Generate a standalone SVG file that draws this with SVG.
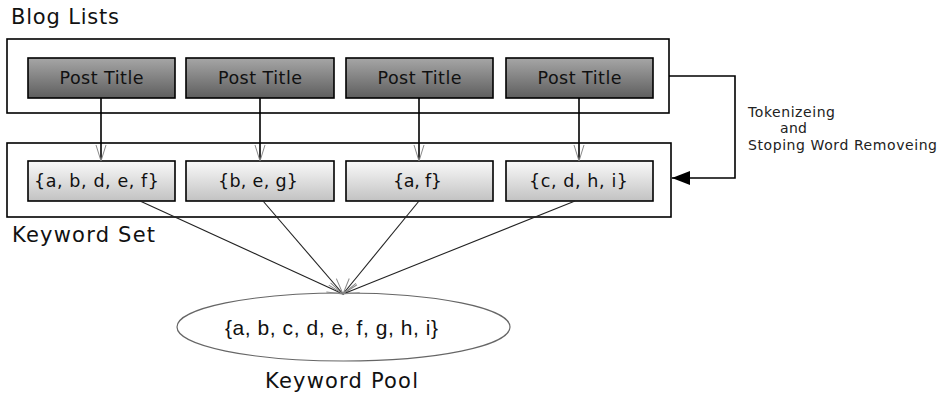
<svg xmlns="http://www.w3.org/2000/svg" width="942" height="395" viewBox="0 0 942 395">
<style>
.frame{fill:none;stroke:#000;stroke-width:1.6}
.post{fill:url(#gDark);stroke:#000;stroke-width:1.6}
.kw{fill:url(#gLight);stroke:#000;stroke-width:1.6}
.t{font-family:"DejaVu Sans",Verdana,sans-serif;fill:#111}
.lbl{font-size:21px}
.box{font-size:17.5px;text-anchor:middle}
.note{font-size:14px;fill:#222}
.edge{stroke:#000;stroke-width:1.6;fill:none}
.edge2{stroke:#222;stroke-width:1.1;fill:none}
</style>
<defs>
<linearGradient id="gDark" x1="0" y1="0" x2="0" y2="1">
<stop offset="0" stop-color="#a6a6a6"/>
<stop offset="1" stop-color="#5e5e5e"/>
</linearGradient>
<linearGradient id="gLight" x1="0" y1="0" x2="0" y2="1">
<stop offset="0" stop-color="#fafafa"/>
<stop offset="1" stop-color="#c2c2c2"/>
</linearGradient>
<marker id="open" markerUnits="userSpaceOnUse" markerWidth="20" markerHeight="14" viewBox="-18 -7 20 14" refX="0" refY="0" orient="auto">
<path d="M-16,-5 L0,0 L-16,5" fill="none" stroke="#888" stroke-width="1"/>
</marker>
<marker id="solid" markerUnits="userSpaceOnUse" markerWidth="20" markerHeight="16" viewBox="-19 -8 20 16" refX="0" refY="0" orient="auto">
<path d="M-18,-7 L0,0 L-18,7 Z" fill="#000"/>
</marker>
</defs>

<text class="t lbl" x="11" y="24" textLength="108" lengthAdjust="spacing">Blog Lists</text>
<text class="t lbl" x="12" y="242" textLength="143" lengthAdjust="spacing">Keyword Set</text>
<text class="t lbl" x="265" y="388" textLength="153" lengthAdjust="spacing">Keyword Pool</text>

<g id="blog-lists">
<rect class="frame" x="7" y="39" width="662" height="74"/>
</g>
<g id="keyword-set">
<rect class="frame" x="7" y="143" width="664" height="74"/>
</g>

<g id="post1"><rect class="post" x="28" y="58" width="147" height="40"/><text class="t box" x="101.5" y="84" textLength="84" lengthAdjust="spacing">Post Title</text></g>
<g id="post2"><rect class="post" x="186" y="58" width="148" height="40"/><text class="t box" x="260" y="84" textLength="84" lengthAdjust="spacing">Post Title</text></g>
<g id="post3"><rect class="post" x="346" y="58" width="147" height="40"/><text class="t box" x="419.5" y="84" textLength="84" lengthAdjust="spacing">Post Title</text></g>
<g id="post4"><rect class="post" x="506" y="58" width="147" height="40"/><text class="t box" x="579.5" y="84" textLength="84" lengthAdjust="spacing">Post Title</text></g>

<g id="kw1"><rect class="kw" x="28" y="161" width="147" height="40"/><text class="t box" x="96.5" y="187" textLength="125" lengthAdjust="spacing">{a, b, d, e, f}</text></g>
<g id="kw2"><rect class="kw" x="186" y="161" width="148" height="40"/><text class="t box" x="258" y="187" textLength="80" lengthAdjust="spacing">{b, e, g}</text></g>
<g id="kw3"><rect class="kw" x="346" y="161" width="147" height="40"/><text class="t box" x="417.5" y="187" textLength="49" lengthAdjust="spacing">{a, f}</text></g>
<g id="kw4"><rect class="kw" x="506" y="161" width="147" height="40"/><text class="t box" x="578.5" y="187" textLength="99" lengthAdjust="spacing">{c, d, h, i}</text></g>

<g id="keyword-pool">
<ellipse cx="343.5" cy="327" rx="166.5" ry="34" fill="#fff" stroke="#666" stroke-width="1.2"/>
<text x="225" y="335" font-family="'Liberation Sans',Arial,sans-serif" font-size="21" fill="#111" textLength="213" lengthAdjust="spacing">{a, b, c, d, e, f, g, h, i}</text>
</g>

<g id="connectors">
<line class="edge" x1="101" y1="98" x2="101" y2="161" marker-end="url(#open)"/>
<line class="edge" x1="260" y1="98" x2="260" y2="161" marker-end="url(#open)"/>
<line class="edge" x1="419" y1="98" x2="419" y2="161" marker-end="url(#open)"/>
<line class="edge" x1="579" y1="98" x2="579" y2="161" marker-end="url(#open)"/>
<line class="edge2" x1="140" y1="201" x2="343" y2="294" marker-end="url(#open)"/>
<line class="edge2" x1="263" y1="201" x2="343" y2="294" marker-end="url(#open)"/>
<line class="edge2" x1="419" y1="201" x2="343" y2="294" marker-end="url(#open)"/>
<line class="edge2" x1="575" y1="201" x2="343" y2="294" marker-end="url(#open)"/>
<polyline class="edge" points="669,76 735,76 735,178 672,178" marker-end="url(#solid)"/>
</g>

<g id="note">
<text class="t note" x="748" y="117" textLength="87" lengthAdjust="spacing">Tokenizeing</text>
<text class="t note" x="780" y="133" textLength="27" lengthAdjust="spacing">and</text>
<text class="t note" x="748" y="150" textLength="189" lengthAdjust="spacing">Stoping Word Removeing</text>
</g>
</svg>
